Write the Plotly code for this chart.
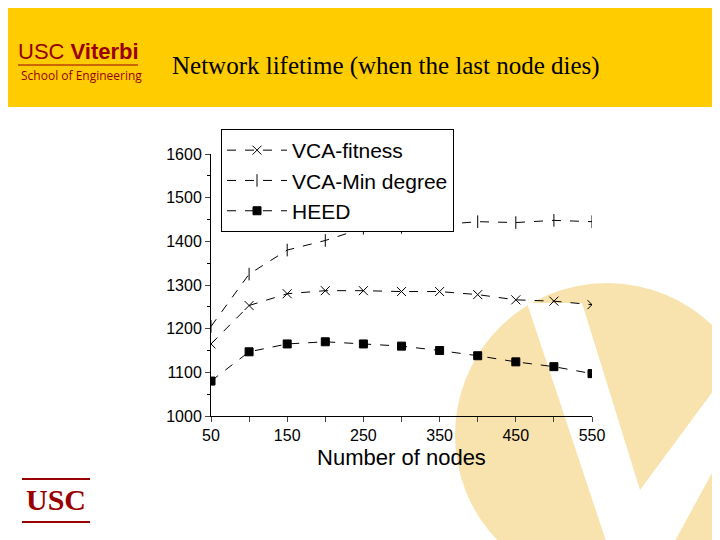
import plotly.graph_objects as go

nodes = [50, 100, 150, 200, 250, 300, 350, 400, 450, 500, 550]
vca_fitness = [1165, 1253, 1280, 1287, 1287, 1285, 1285, 1278, 1266, 1263, 1255]
vca_min_degree = [1205, 1325, 1380, 1402, 1430, 1432, 1438, 1445, 1443, 1448, 1445]
heed = [1080, 1147, 1165, 1170, 1165, 1160, 1150, 1138, 1124, 1113, 1097]
x_ticks = [50, 150, 250, 350, 450, 550]
y_ticks = [1000, 1100, 1200, 1300, 1400, 1500, 1600]

# plot area in target pixels; page draws the figure 8px in from the corner
L, R, T, B = 211, 592, 154, 416
OFF = 8


def px(x):
    return (x - L) / (R - L)


def py(y):
    return (B - y) / (B - T)


def poly(points):
    parts = ["{} {} {}".format("M" if i == 0 else "L", px(x), py(y))
             for i, (x, y) in enumerate(points)]
    return " ".join(parts) + " Z"


fig = go.Figure()
series = [
    ("VCA-fitness", vca_fitness, "x-thin-open", 9),
    ("VCA-Min degree", vca_min_degree, "line-ns-open", 9),
    ("HEED", heed, "square", 8),
]
for name, vals, sym, size in series:
    fig.add_trace(go.Scatter(
        x=nodes, y=vals, name=name, mode="lines+markers",
        line=dict(color="black", width=1, dash="dash"),
        marker=dict(symbol=sym, size=size, color="black",
                    line=dict(color="black", width=1)),
    ))

P = dict(xref="paper", yref="paper")
shapes = [
    # yellow banner
    dict(type="rect", x0=px(0), x1=px(730), y0=py(107), y1=py(0),
         fillcolor="#FFCC00", line_width=0, layer="below", **P),
    # pale V logo
    dict(type="circle", x0=px(455), x1=px(759), y0=py(587), y1=py(283),
         fillcolor="#F8E3AE", line_width=0, layer="below", **P),
    dict(type="path", layer="below", fillcolor="white", line_width=0, **P,
         path=poly([(527, 303), (582, 303), (640, 490), (730, 368), (730, 440),
                    (670, 550), (609, 550)])),
    # USC lines
    dict(type="line", x0=px(22), x1=px(90), y0=py(479), y1=py(479),
         line=dict(color="#990000", width=2), **P),
    dict(type="line", x0=px(22), x1=px(90), y0=py(522), y1=py(522),
         line=dict(color="#990000", width=2), **P),
    dict(type="line", x0=px(18), x1=px(138), y0=py(65), y1=py(65),
         line=dict(color="#990000", width=1), **P),
]

annotations = [
    dict(text="Network lifetime (when the last node dies)", x=px(170), y=py(66),
         xanchor="left", yanchor="middle", showarrow=False,
         font=dict(family="Liberation Serif", size=25, color="black"), **P),
    dict(text="USC <b>Viterbi</b>", x=px(16), y=py(52), xanchor="left", yanchor="middle",
         showarrow=False, font=dict(family="Liberation Sans", size=22, color="#990000"), **P),
    dict(text="School of Engineering", x=px(19), y=py(75), xanchor="left", yanchor="middle",
         showarrow=False, font=dict(family="Open Sans", size=12, color="#990000"), **P),
    dict(text="<b>USC</b>", x=px(56), y=py(500), xanchor="center", yanchor="middle",
         showarrow=False, font=dict(family="Liberation Serif", size=30, color="#990000"), **P),
]

fig.update_layout(
    width=720, height=540,
    margin=dict(l=L - OFF, r=720 - R + OFF, t=T - OFF, b=540 - B + OFF),
    paper_bgcolor="white", plot_bgcolor="rgba(0,0,0,0)",
    shapes=shapes, annotations=annotations,
    font=dict(family="Liberation Sans", color="black"),
    legend=dict(x=px(221), y=py(129), xanchor="left", yanchor="top",
                bordercolor="black", borderwidth=1, bgcolor="white",
                font=dict(size=21), itemwidth=60, tracegroupgap=0),
)
fig.update_xaxes(range=[50, 550], tickvals=nodes,
                 ticktext=[str(n) if n in x_ticks else "" for n in nodes],
                 ticks="outside", ticklen=5, showline=True, linecolor="black",
                 showgrid=False, zeroline=False, tickfont=dict(size=16),
                 title=dict(text="Number of nodes", font=dict(size=22), standoff=6))
fig.update_yaxes(range=[1000, 1600], tickvals=y_ticks,
                 ticks="outside", ticklen=5, showline=True, linecolor="black",
                 minor=dict(dtick=50, ticks="outside", ticklen=3, tickcolor="black"),
                 showgrid=False, zeroline=False, tickfont=dict(size=16))

fig.write_html("out.html")
